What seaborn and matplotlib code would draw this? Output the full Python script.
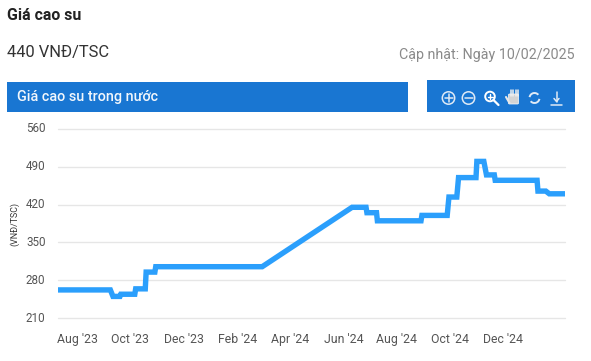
import pandas as pd
import seaborn as sns
import matplotlib
matplotlib.use("Agg")
import matplotlib.pyplot as plt
import matplotlib.transforms as mtrans
from matplotlib.patches import Rectangle, Circle, Arc, FancyBboxPatch

# price series
dates = ["2023-07-10", "2023-09-08", "2023-09-11", "2023-09-19", "2023-09-20", "2023-10-06",
         "2023-10-07", "2023-10-18", "2023-10-19", "2023-10-29", "2023-10-30", "2024-02-29",
         "2024-06-11", "2024-06-27", "2024-06-28", "2024-07-09", "2024-07-10", "2024-08-29",
         "2024-08-30", "2024-09-28", "2024-09-30", "2024-10-09", "2024-10-11", "2024-10-31",
         "2024-11-01", "2024-11-09", "2024-11-12", "2024-11-21", "2024-11-22", "2025-01-09",
         "2025-01-10", "2025-01-19", "2025-01-23", "2025-02-10"]
prices = [262, 262, 250, 250, 254, 254,
          264, 264, 295, 295, 305, 305,
          415, 415, 405, 405, 390, 390,
          400, 400, 434, 434, 470, 470,
          500, 500, 475, 475, 465, 465,
          445, 445, 440, 440]
y_ticks = [210, 280, 350, 420, 490, 560]
x_ticks = ["2023-08-01", "2023-10-01", "2023-12-01", "2024-02-01", "2024-04-01",
           "2024-06-01", "2024-08-01", "2024-10-01", "2024-12-01"]
x_labels = ["Aug '23", "Oct '23", "Dec '23", "Feb '24", "Apr '24",
            "Jun '24", "Aug '24", "Oct '24", "Dec '24"]

W, H = 591, 361
BLUE = "#1976d2"
LINE = "#2b9ffc"

sns.set_style("white")
plt.rcParams["font.family"] = ["Roboto", "DejaVu Sans"]

fig = plt.figure(figsize=(W / 100, H / 100), dpi=100)

# chart area, placed in pixels
ax = fig.add_axes([58 / W, 1 - 318 / H, (565 - 58) / W, (318 - 129) / H])
df = pd.DataFrame({"date": pd.to_datetime(dates), "price": prices})
sns.lineplot(data=df, x="date", y="price", ax=ax, color=LINE, linewidth=3.9,
             solid_joinstyle="miter", solid_capstyle="butt", zorder=3)
ax.set_xlim(pd.Timestamp("2023-07-10"), pd.Timestamp("2025-02-10"))
ax.set_ylim(210, 560)
ax.set_yticks(y_ticks)
ax.set_xticks(pd.to_datetime(x_ticks))
ax.set_xticklabels(x_labels)
ax.grid(axis="y", color="#e6e6e6", linewidth=1)
ax.grid(axis="x", visible=False)
ax.set_xlabel("")
ax.set_ylabel("")
sns.despine(ax=ax, left=True, bottom=True, top=True, right=True)
ax.tick_params(axis="y", length=0, pad=9, labelsize=8.4, labelcolor="#555555")
ax.tick_params(axis="x", length=0, pad=11, labelsize=8.8, labelcolor="#555555")
for s in ax.get_ygridlines():
    s.set_clip_on(False)
# y labels sit a touch above their gridlines
shift = mtrans.ScaledTranslation(0, 1.5 / 100, fig.dpi_scale_trans)
for lbl in ax.get_yticklabels():
    lbl.set_transform(lbl.get_transform() + shift)

# overlay in pixel coordinates for the page furniture
ov = fig.add_axes([0, 0, 1, 1], zorder=5)
ov.set_xlim(0, W)
ov.set_ylim(H, 0)
ov.axis("off")
ov.patch.set_alpha(0)

ov.text(7, 15.5, "Giá cao su", fontsize=11.4, fontweight="bold", color="#222222", va="center")
ov.text(7, 52, "440 VNĐ/TSC", fontsize=11.9, color="#333333", va="center")
ov.text(575, 55, "Cập nhật: Ngày 10/02/2025", fontsize=10.3, color="#8a8a8a", va="center", ha="right")
ov.text(15, 224, "(VNĐ/TSC)", fontsize=6.4, color="#333333", rotation=90, va="center", ha="center")

ov.add_patch(Rectangle((7, 82), 401, 30, color=BLUE, lw=0))
ov.add_patch(Rectangle((427, 80), 148, 32, color=BLUE, lw=0))
ov.text(17, 96.5, "Giá cao su trong nước", fontsize=10.4, fontweight="medium", color="#f2f7fc", va="center")

# toolbar icons
ic = dict(color="#dfeaf6", lw=1.1)
ov.add_patch(Circle((448.5, 98), 6.2, fill=False, ec=ic["color"], lw=ic["lw"]))
ov.plot([444.5, 452.5], [98, 98], **ic)
ov.plot([448.5, 448.5], [94, 102], **ic)
ov.add_patch(Circle((468.5, 98), 6.2, fill=False, ec=ic["color"], lw=ic["lw"]))
ov.plot([464.5, 472.5], [98, 98], **ic)
ov.add_patch(Circle((490, 96.5), 4.8, fill=False, ec="white", lw=1.4))
ov.plot([487.5, 492.5], [96.5, 96.5], color="white", lw=1)
ov.plot([490, 490], [94, 99], color="white", lw=1)
ov.plot([493.5, 498.5], [100, 105], color="white", lw=1.6)
ov.add_patch(FancyBboxPatch((509.5, 95), 8, 8, boxstyle="round,pad=1", fc="#d4d4d4", ec="white", lw=0.5))
ov.plot([506, 509.5], [97, 103], color="#e8e8e8", lw=1.5)
for hx in [510.5, 513, 515.5, 518]:
    ov.plot([hx, hx], [90, 96], color="#f0f0f0", lw=1.1)
ov.add_patch(Arc((534.5, 98), 10, 10, theta1=190, theta2=320, color=ic["color"], lw=1.4))
ov.add_patch(Arc((534.5, 98), 10, 10, theta1=10, theta2=140, color=ic["color"], lw=1.4))
ov.plot([551, 562], [104.5, 104.5], **ic)
ov.plot([556.5, 556.5], [92, 101.5], **ic)
ov.plot([554, 556.5, 559], [98.5, 101.5, 98.5], **ic)

fig.savefig("out.png", dpi=100, facecolor="white")
